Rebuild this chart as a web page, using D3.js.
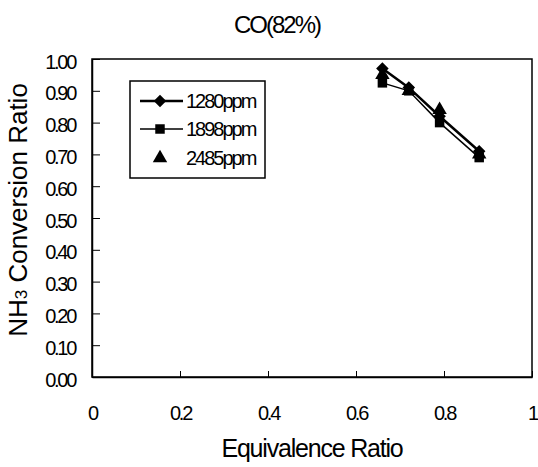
<!DOCTYPE html>
<html>
<head>
<meta charset="utf-8">
<script src="https://cdn.jsdelivr.net/npm/d3@7"></script>
<style>
  body { margin: 0; background: #fff; }
  svg text { font-family: "Liberation Sans", Arial, sans-serif; fill: #000; }
  .tick text { font-size: 20px; letter-spacing: -2.3px; }
</style>
</head>
<body>
<div id="chart"></div>
<script>
// data
const ratios = [0.66, 0.72, 0.79, 0.88];
const ppm1280 = [0.97, 0.91, 0.82, 0.71];
const ppm1898 = [0.925, 0.90, 0.80, 0.69];
const ppm2485 = [0.95, 0.90, 0.84, 0.70];
const xTicks = [0, 0.2, 0.4, 0.6, 0.8, 1];
const yTicks = [0, 0.1, 0.2, 0.3, 0.4, 0.5, 0.6, 0.7, 0.8, 0.9, 1.0];
const seriesNames = ["1280ppm", "1898ppm", "2485ppm"];

const width = 538;
const height = 467;
const margin = {top: 59, left: 92, right: 6, bottom: 90};

const svg = d3.select("#chart")
  .append("svg")
  .attr("width", width)
  .attr("height", height);

const xScale = d3.scaleLinear()
  .domain([0, 1])
  .range([margin.left, width - margin.right]);

const yScale = d3.scaleLinear()
  .domain([0, 1])
  .range([height - margin.bottom, margin.top]);

/* plot box */
svg.append("rect")
  .attr("x", xScale(0))
  .attr("y", yScale(1))
  .attr("width", xScale(1) - xScale(0))
  .attr("height", yScale(0) - yScale(1))
  .attr("fill", "none")
  .attr("stroke", "#000")
  .attr("stroke-width", 1.5);

/* axes, ticks point inside */
const xAxis = svg.append("g")
  .attr("transform", `translate(0,${yScale(0)})`)
  .call(d3.axisBottom(xScale).tickValues(xTicks).tickSizeInner(-6).tickSizeOuter(0)
    .tickPadding(29).tickFormat(d => d === 0 || d === 1 ? d3.format("d")(d) : d3.format(".1f")(d)));
xAxis.select(".domain").attr("stroke-width", 1.5);

const yAxis = svg.append("g")
  .attr("transform", `translate(${xScale(0)},0)`)
  .call(d3.axisLeft(yScale).tickValues(yTicks).tickSizeInner(-8).tickSizeOuter(0)
    .tickPadding(17).tickFormat(d3.format(".2f")));
yAxis.select(".domain").attr("stroke-width", 1.5);
yAxis.selectAll(".tick text").attr("dy", "0.45em");

/* titles */
svg.append("text")
  .attr("x", 277)
  .attr("y", 33)
  .attr("text-anchor", "middle")
  .style("font-size", "24px")
  .style("letter-spacing", "-2px")
  .text("CO(82%)");

svg.append("text")
  .attr("x", 312)
  .attr("y", 457)
  .attr("text-anchor", "middle")
  .style("font-size", "25px")
  .style("letter-spacing", "-1.2px")
  .text("Equivalence Ratio");

const yTitle = svg.append("text")
  .attr("transform", `translate(27,210) rotate(-90)`)
  .attr("text-anchor", "middle")
  .style("font-size", "26px");
yTitle.append("tspan").text("NH");
yTitle.append("tspan").style("font-size", "17px").text("3");
yTitle.append("tspan").text(" Conversion Ratio");

/* series */
const line = d3.line()
  .x((d, i) => xScale(ratios[i]))
  .y(d => yScale(d));

svg.append("path")
  .datum(ppm1898)
  .attr("d", line)
  .attr("fill", "none")
  .attr("stroke", "#000")
  .attr("stroke-width", 1.5);

svg.append("path")
  .datum(ppm1280)
  .attr("d", line)
  .attr("fill", "none")
  .attr("stroke", "#000")
  .attr("stroke-width", 2.5);

const symbols = [
  d3.symbol().type(d3.symbolDiamond2).size(100),
  d3.symbol().type(d3.symbolSquare).size(90),
  d3.symbol().type(d3.symbolTriangle).size(90)
];

[ppm1898, ppm2485, ppm1280].forEach((s, k) => {
  const idx = [1, 2, 0][k];
  svg.append("g").selectAll("path")
    .data(s)
    .enter()
    .append("path")
    .attr("transform", (d, i) => `translate(${xScale(ratios[i])},${yScale(d)})`)
    .attr("d", symbols[idx])
    .attr("fill", "#000");
});

/* legend */
const legend = svg.append("g");
legend.append("rect")
  .attr("x", 130)
  .attr("y", 81)
  .attr("width", 135)
  .attr("height", 97)
  .attr("fill", "#fff")
  .attr("stroke", "#000")
  .attr("stroke-width", 1.5);

const legendY = [101, 129, 158];
seriesNames.forEach((name, i) => {
  if (i < 2) {
    legend.append("line")
      .attr("x1", 140).attr("x2", 183)
      .attr("y1", legendY[i]).attr("y2", legendY[i])
      .attr("stroke", "#000")
      .attr("stroke-width", i === 0 ? 2.5 : 1.5);
  }
  legend.append("path")
    .attr("transform", `translate(160,${legendY[i]})`)
    .attr("d", symbols[i])
    .attr("fill", "#000");
  legend.append("text")
    .attr("x", 186)
    .attr("y", legendY[i] + 7)
    .style("font-size", "20px")
    .style("letter-spacing", "-2px")
    .text(name);
});
</script>
</body>
</html>
